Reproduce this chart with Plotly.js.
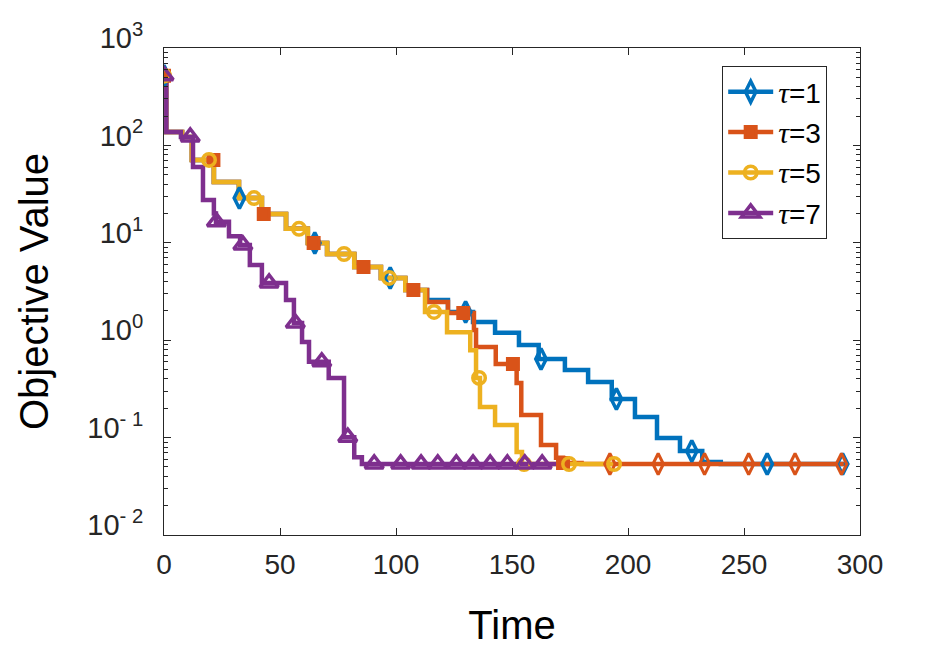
<!DOCTYPE html>
<html>
<head>
<meta charset="utf-8">
<script src="https://cdn.plot.ly/plotly-3.0.1.min.js"></script>
<style>html,body{margin:0;padding:0;background:#fff;}#chart{width:946px;height:661px;}</style>
</head>
<body>
<div id="chart"></div>
<script>
// ---- data ----
const seriesNames = ['τ=1', 'τ=3', 'τ=5', 'τ=7'];

// step curves: time at which the objective drops, and the new value
const tau1T = [0, 0.9, 7.8, 12, 21.5, 32.3, 42.2, 52.6, 62, 70.3, 82, 93.5, 104, 113.4, 122.4, 133.2, 142.7, 153, 161.5, 172.8, 182.8, 193, 203, 212.5, 222.4, 232, 240, 294];
const tau1V = [520, 137, 122, 71, 42, 28.8, 19.8, 13.9, 9.96, 7.67, 5.65, 4.36, 3.28, 2.59, 1.95, 1.54, 1.19, 0.893, 0.641, 0.494, 0.372, 0.249, 0.163, 0.099, 0.0728, 0.0562, 0.0536, 0.0536];

const tau3T = [0, 0.9, 7.8, 12, 21.5, 32.3, 42.2, 52.6, 62, 70.3, 82, 93.5, 104, 113.4, 122.4, 133.6, 134.5, 143, 152, 154, 162.5, 169, 172, 180, 293];
const tau3V = [520, 137, 122, 71, 42, 28.8, 19.8, 13.9, 9.96, 7.67, 5.65, 4.36, 3.28, 2.47, 1.90, 1.27, 0.85, 0.57, 0.363, 0.171, 0.084, 0.062, 0.055, 0.0536, 0.0536];

const tau5T = [0, 0.9, 7.8, 12, 21.5, 32.3, 42.2, 52.6, 62, 70.3, 82, 93.5, 104, 112.5, 122, 132, 134.5, 136.2, 142.7, 152, 154.3, 194];
const tau5V = [520, 137, 122, 71, 42, 28.8, 19.8, 13.9, 9.96, 7.67, 5.65, 4.36, 3.28, 1.95, 1.21, 0.79, 0.41, 0.206, 0.135, 0.071, 0.0536, 0.0536];

const tau7T = [0, 1, 7.3, 12.5, 16.8, 21.5, 22.4, 28, 32.8, 37, 42.2, 52.6, 56, 59.5, 62.5, 71, 77.6, 82, 85.3, 173];
const tau7V = [520, 137, 122, 60, 27.5, 20, 16.4, 11.7, 9.5, 5.9, 3.87, 2.59, 1.5, 0.96, 0.6, 0.41, 0.101, 0.063, 0.0536, 0.0536];

// times at which markers are drawn on each curve
const tau1MarkT = [0, 32.5, 65, 97.5, 130, 162.5, 195, 227.5, 260, 292.5];
const tau3MarkT = [0, 21.3, 43, 64.5, 86, 107.5, 129, 150.4, 172, 192.2, 213, 233, 252, 272, 292];
const tau3MarkSym = ['s','s','s','s','s','s','s','s','s','d','d','d','d','d','d'];
const tau5MarkT = [0, 19.4, 38.8, 58.2, 77.6, 97, 116.4, 135.8, 155.2, 174.6, 194];
const tau7MarkT = [0, 11.3, 22.6, 34, 45.3, 56.6, 68, 79.2, 90.6, 102, 110.8, 118, 126, 133.2, 140.6, 148, 155.5, 163];

const xTickVals = [0, 50, 100, 150, 200, 250, 300];
const yTickVals = [0.01, 0.1, 1, 10, 100, 1000];
const yTickExp = ['- 2', '- 1', '0', '1', '2', '3'];

// ---- styling ----
const colors = ['#0072BD', '#D95319', '#EDB120', '#7E2F8E'];
const FONT = 'Liberation Sans, Arial, Helvetica, sans-serif';
const AX = '#262626';

function stepAt(T, V, t) {
  let v = V[0];
  for (let i = 0; i < T.length; i++) { if (T[i] <= t + 1e-9) v = V[i]; }
  return v;
}

const DIA = 15, SQ = 11, CIR = 12.5, TRI = 16;
const curves = [
  {T: tau1T, V: tau1V, M: tau1MarkT, sym: 'diamond-tall-open', size: DIA, lw: 3.5},
  {T: tau3T, V: tau3V, M: tau3MarkT, sym: tau3MarkSym.map(s => s === 's' ? 'square' : 'diamond-tall-open'),
   size: tau3MarkSym.map(s => s === 's' ? SQ : DIA), lw: 3, legSym: 'square', legSize: SQ},
  {T: tau5T, V: tau5V, M: tau5MarkT, sym: 'circle-open', size: CIR, lw: 3.5},
  {T: tau7T, V: tau7V, M: tau7MarkT, sym: 'triangle-up-open', size: TRI, lw: 3.5}
];

const traces = [];
curves.forEach((c, i) => {
  traces.push({
    x: c.T, y: c.V, type: 'scatter', mode: 'lines',
    line: {color: colors[i], width: 4.5, shape: 'hv'},
    showlegend: false, hoverinfo: 'skip'
  });
});
curves.forEach((c, i) => {
  traces.push({
    x: c.M, y: c.M.map(t => stepAt(c.T, c.V, t)), type: 'scatter', mode: 'markers',
    marker: {symbol: c.sym, size: c.size, opacity: 1, color: colors[i], line: {color: colors[i], width: c.lw}},
    showlegend: false, hoverinfo: 'skip'
  });
});
curves.forEach((c, i) => {
  traces.push({
    x: [null], y: [null], type: 'scatter', mode: 'lines+markers',
    name: '<span style="font-family:Liberation Serif,serif;font-size:30px"><i>τ</i></span>' + seriesNames[i].slice(1),
    legendgroup: 'g' + i,
    line: {color: colors[i], width: 4.5},
    marker: {symbol: c.legSym || c.sym, size: c.legSize || c.size, opacity: 1, color: colors[i], line: {color: colors[i], width: c.lw}}
  });
});

const minorVals = [];
for (let d = -2; d < 3; d++) for (let k = 2; k <= 9; k++) minorVals.push(k * Math.pow(10, d));

const layout = {
  width: 946, height: 661,
  paper_bgcolor: '#ffffff', plot_bgcolor: '#ffffff',
  margin: {l: 164, r: 86, t: 48, b: 126},
  font: {family: FONT, color: AX},
  showlegend: true,
  legend: {
    x: 0.802, y: 0.963, xanchor: 'left', yanchor: 'top',
    bgcolor: '#ffffff', bordercolor: AX, borderwidth: 1,
    font: {family: FONT, size: 28, color: '#000000'},
    tracegroupgap: 1, itemwidth: 45
  },
  xaxis: {
    range: [0, 300], tickmode: 'array', tickvals: xTickVals,
    ticks: 'inside', ticklen: 7, tickwidth: 1, tickcolor: AX,
    showline: true, linecolor: AX, linewidth: 1, mirror: 'ticks',
    showgrid: false, zeroline: false,
    tickfont: {family: FONT, size: 28, color: AX},
    ticklabelstandoff: 4,
    title: {text: 'Time', font: {family: FONT, size: 40, color: '#000000'}, standoff: 32}
  },
  yaxis: {
    type: 'log', range: [-2, 3], tickmode: 'array', tickvals: yTickVals,
    ticktext: yTickExp.map(e => '10<sup>' + e + '</sup>'),
    ticks: 'inside', ticklen: 7, tickwidth: 1, tickcolor: AX,
    minor: {tickmode: 'array', tickvals: minorVals, ticks: 'inside', ticklen: 4, tickcolor: AX, showgrid: false},
    showline: true, linecolor: AX, linewidth: 1, mirror: 'ticks',
    showgrid: false, zeroline: false,
    tickfont: {family: FONT, size: 29, color: AX},
    ticklabelstandoff: 14, ticklabelshift: -10,
    title: {text: 'Objective Value', font: {family: FONT, size: 40, color: '#000000'}, standoff: 26}
  }
};

Plotly.newPlot('chart', traces, layout, {staticPlot: true});
</script>
</body>
</html>
